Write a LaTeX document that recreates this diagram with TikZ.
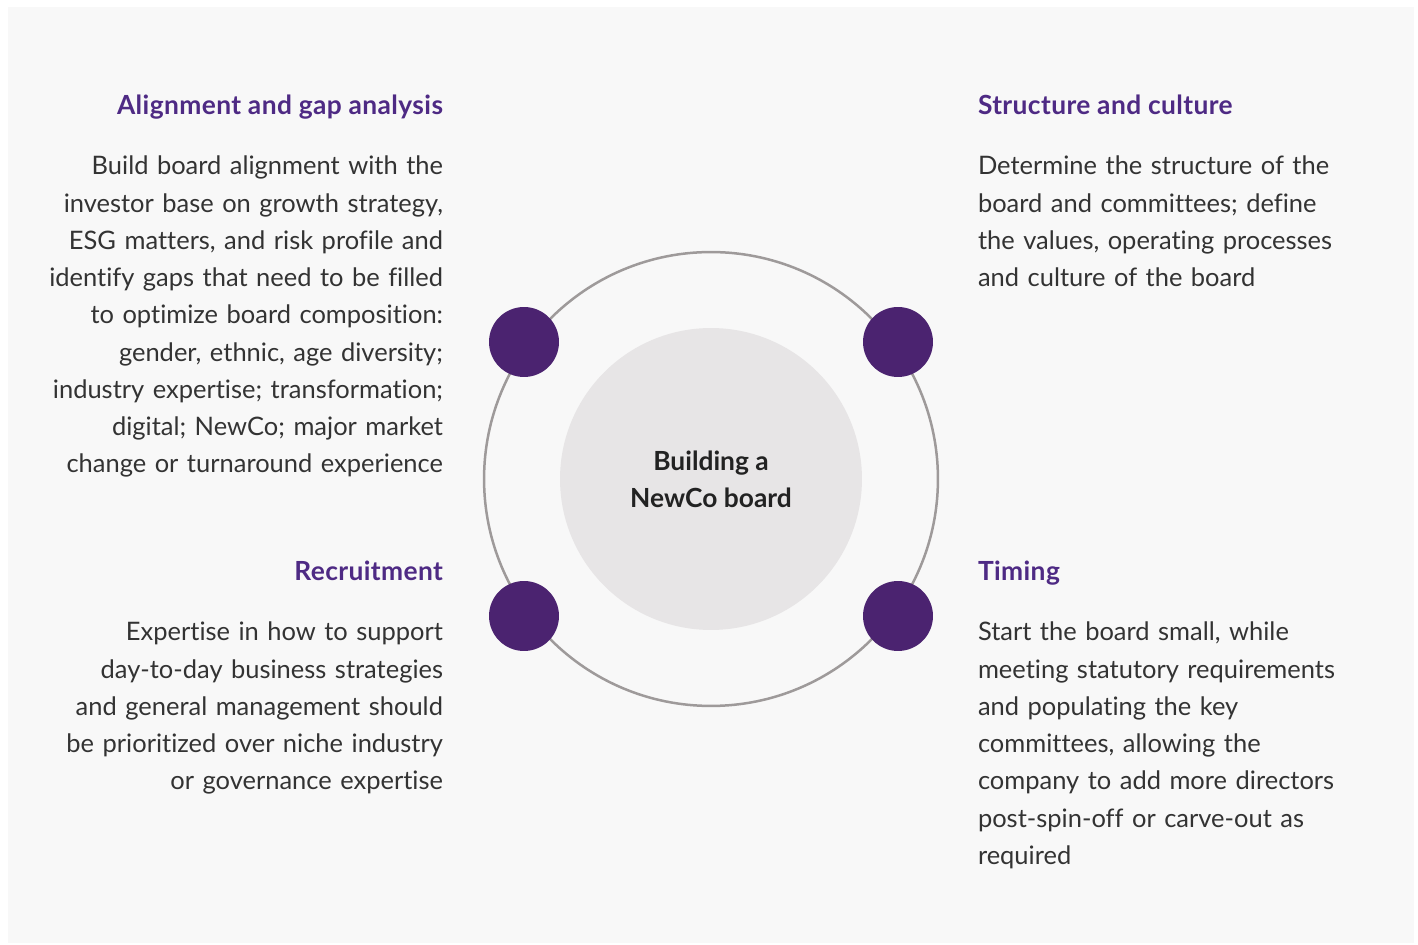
\documentclass[tikz,border=0pt]{standalone}
\usepackage{fontspec}
\setmainfont{Lato}[Ligatures=NoCommon]
\usepackage{tikz}
\usetikzlibrary{positioning}

\definecolor{pagebg}{HTML}{F8F8F8}
\definecolor{ringgray}{HTML}{9E9A9A}
\definecolor{hubgray}{HTML}{E7E5E6}
\definecolor{dotpurple}{HTML}{4B2370}
\definecolor{headpurple}{HTML}{4E2A84}
\definecolor{bodygray}{HTML}{333333}
\definecolor{hubtext}{HTML}{222222}

\newcommand{\bodyfont}{\fontsize{14.5pt}{21.2pt}\selectfont}
\newcommand{\headfont}{\addfontfeatures{LetterSpace=1.5}\fontsize{15pt}{21.2pt}\selectfont\bfseries}
\newcommand{\hubfont}{\fontsize{15pt}{21.2pt}\selectfont\bfseries}

\begin{document}
\begin{tikzpicture}[x=0.02cm,y=-0.02cm,
  every node/.style={inner sep=0pt,outer sep=0pt},
  heading/.style={font=\headfont,text=headpurple},
  bodyl/.style={font=\bodyfont,text=bodygray,text width=8.6cm,align=right},
  bodyr/.style={font=\bodyfont,text=bodygray,text width=8.6cm,align=left},
  ring/.style={circle,draw=ringgray,line width=0.05cm,minimum size=9.08cm},
  hub/.style={circle,fill=hubgray,minimum size=6.04cm,align=center,
              font=\hubfont,text=hubtext},
  dot/.style={circle,fill=dotpurple,minimum size=1.4cm},
]
\fill[white] (0,0) rectangle (1418,945);
\fill[pagebg] (8,7) rectangle (1414,943);

% centre
\node[ring] (ring) at (711,479) {};
\node[hub]  (hub)  at (711,479) {Building a\\NewCo board};

\node[dot] (dotnw) at (524,342) {};
\node[dot] (dotne) at (898,342) {};
\node[dot] (dotsw) at (524,616) {};
\node[dot] (dotse) at (898,616) {};

% left side
\node[heading,anchor=base east] (aligntitle) at (443,115) {Alignment and gap analysis};
\node[bodyl,anchor=base east] (aligntext) at (443,175)
  {Build board alignment with the\\
   investor base on growth strategy,\\
   ESG matters, and risk profile and\\
   identify gaps that need to be filled\\
   to optimize board composition:\\
   gender, ethnic, age diversity;\\
   industry expertise; transformation;\\
   digital; NewCo; major market\\
   change or turnaround experience};

\node[heading,anchor=base east] (recrtitle) at (443,581) {Recruitment};
\node[bodyl,anchor=base east] (recrtext) at (443,641)
  {Expertise in how to support\\
   day-to-day business strategies\\
   and general management should\\
   be prioritized over niche industry\\
   or governance expertise};

% right side
\node[heading,anchor=base west] (structtitle) at (978,115) {Structure and culture};
\node[bodyr,anchor=base west] (structtext) at (978,175)
  {Determine the structure of the\\
   board and committees; define\\
   the values, operating processes\\
   and culture of the board};

\node[heading,anchor=base west] (timetitle) at (978,581) {Timing};
\node[bodyr,anchor=base west] (timetext) at (978,641)
  {Start the board small, while\\
   meeting statutory requirements\\
   and populating the key\\
   committees, allowing the\\
   company to add more directors\\
   post-spin-off or carve-out as\\
   required};
\end{tikzpicture}
\end{document}
